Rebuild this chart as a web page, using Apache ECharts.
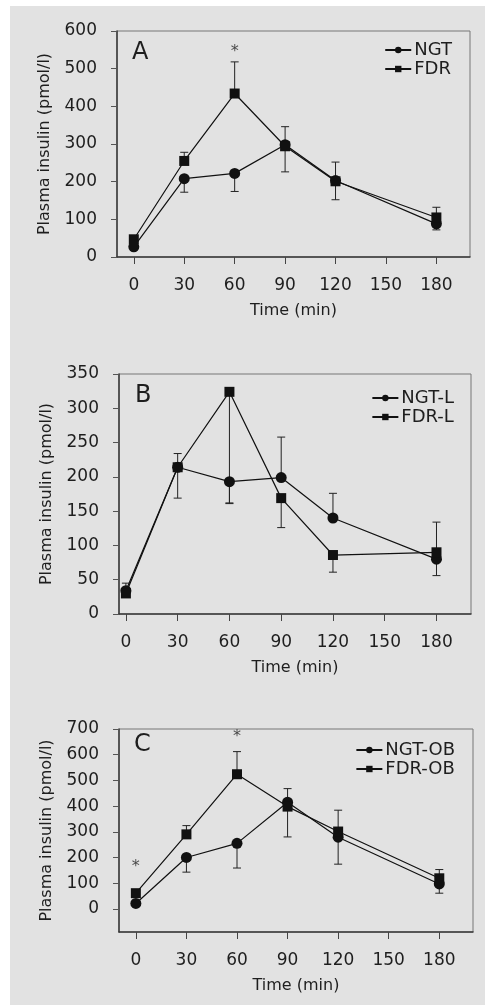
<!DOCTYPE html>
<html>
<head>
<meta charset="utf-8">
<script src="https://cdn.jsdelivr.net/npm/echarts@6/dist/echarts.min.js"></script>
<style>
  html, body { margin: 0; padding: 0; background: #fff; }
  #chart { width: 485px; height: 1007px; }
</style>
</head>
<body>
<div id="chart"></div>
<script>
// sampling times (min) and axis ticks
var times = [0, 30, 60, 90, 120, 180];
var xTicks = [0, 30, 60, 90, 120, 150, 180];
var yTicksA = [0, 100, 200, 300, 400, 500, 600];
var yTicksB = [0, 50, 100, 150, 200, 250, 300, 350];
var yTicksC = [0, 100, 200, 300, 400, 500, 600, 700];

// panel A - NGT / FDR
var ngtA = [27, 208, 222, 298, 203, 88];
var fdrA = [47, 255, 434, 294, 201, 105];
var ngtAErr = [null, 172, 174, 226, 152, 72];
var fdrAErr = [null, 278, 518, 346, 252, 132];
var starA = [[60, 545]];

// panel B - lean
var ngtB = [34, 214, 193, 199, 140, 80];
var fdrB = [30, 214, 324, 169, 86, 90];
var ngtBErr = [45, 234, 161, 258, 176, 134];
var fdrBErr = [null, 169, 162, 126, 61, 56];

// panel C - obese
var ngtC = [21, 200, 255, 415, 279, 97];
var fdrC = [61, 290, 524, 398, 301, 119];
var ngtCErr = [null, 143, 159, 280, 174, 61];
var fdrCErr = [null, 324, 612, 468, 384, 153];
var starC = [[0, 163], [60, 668]];

var FONT = 'DejaVu Sans';
var TXT = '#1e1e1e';

var chart = echarts.init(document.getElementById('chart'));

function pairs(vals) {
  return times.map(function (t, i) { return [t, vals[i]]; });
}

function errData(vals, ends) {
  var out = [];
  times.forEach(function (t, i) {
    if (ends[i] != null) out.push([t, vals[i], ends[i]]);
  });
  return out;
}

function lineSeries(name, idx, vals, symbol, size) {
  return {
    name: name, type: 'line', xAxisIndex: idx, yAxisIndex: idx,
    data: pairs(vals),
    symbol: symbol, symbolSize: size,
    itemStyle: { color: '#111' },
    lineStyle: { color: '#111', width: 1.2 },
    z: 3, animation: false
  };
}

function errSeries(idx, vals, ends) {
  return {
    type: 'custom', xAxisIndex: idx, yAxisIndex: idx, z: 2,
    data: errData(vals, ends),
    encode: { x: 0, y: [1, 2] },
    renderItem: function (params, api) {
      var p0 = api.coord([api.value(0), api.value(1)]);
      var p1 = api.coord([api.value(0), api.value(2)]);
      var w = 4;
      return {
        type: 'group',
        children: [
          { type: 'line', shape: { x1: p0[0], y1: p0[1], x2: p1[0], y2: p1[1] }, style: { stroke: '#222', lineWidth: 1 } },
          { type: 'line', shape: { x1: p1[0] - w, y1: p1[1], x2: p1[0] + w, y2: p1[1] }, style: { stroke: '#222', lineWidth: 1 } }
        ]
      };
    },
    animation: false
  };
}

function starSeries(idx, pts) {
  return {
    type: 'scatter', xAxisIndex: idx, yAxisIndex: idx,
    data: pts, symbolSize: 1,
    itemStyle: { color: 'rgba(0,0,0,0)' },
    label: { show: true, position: 'inside', formatter: '*', fontSize: 16, color: TXT, fontFamily: FONT },
    z: 4, animation: false
  };
}

function xAxis(idx, min) {
  return {
    gridIndex: idx, type: 'value', min: min, max: 200,
    name: 'Time (min)', nameLocation: 'middle', nameGap: 46,
    nameTextStyle: { fontSize: 16, color: TXT, fontFamily: FONT },
    axisLine: { show: true, onZero: false, lineStyle: { color: '#3a3a3a', width: 1.5 } },
    axisTick: { show: true, length: 7, customValues: xTicks, lineStyle: { color: '#444' } },
    axisLabel: { margin: 20, fontSize: 17, color: TXT, fontFamily: FONT, customValues: xTicks },
    splitLine: { show: false }
  };
}

function yAxis(idx, min, max, ticks) {
  return {
    gridIndex: idx, type: 'value', min: min, max: max,
    name: 'Plasma insulin (pmol/l)', nameLocation: 'middle', nameGap: 64,
    nameTextStyle: { fontSize: 16, color: TXT, fontFamily: FONT },
    axisLine: { show: true, onZero: false, lineStyle: { color: '#3a3a3a', width: 1.5 } },
    axisTick: { show: true, length: 6, customValues: ticks, lineStyle: { color: '#555' } },
    axisLabel: { margin: 20, fontSize: 17, color: TXT, fontFamily: FONT, customValues: ticks },
    splitLine: { show: false }
  };
}

function legend(idx, names, right, top) {
  return {
    data: names, orient: 'vertical', right: right, top: top,
    itemWidth: 26, itemHeight: 8, itemGap: 1,
    textStyle: { fontSize: 18, color: TXT, fontFamily: FONT, padding: [0, 0, 0, -2] },
    selectedMode: false
  };
}

function letter(ch, x, y) {
  return {
    type: 'text', left: x, top: y,
    style: { text: ch, fontSize: 24, fill: TXT, fontFamily: FONT }
  };
}

var option = {
  animation: false,
  graphic: [
    { type: 'rect', shape: { x: 10, y: 6, width: 475, height: 999 }, style: { fill: '#e2e2e2' }, z: -10, silent: true },
    letter('A', 132, 41),
    letter('B', 135, 384),
    letter('C', 134, 733)
  ],
  grid: [
    { left: 117, top: 31, width: 353, height: 226, show: true, borderColor: '#777', borderWidth: 1 },
    { left: 119, top: 374, width: 352, height: 240, show: true, borderColor: '#777', borderWidth: 1 },
    { left: 119, top: 729, width: 354, height: 203, show: true, borderColor: '#777', borderWidth: 1 }
  ],
  xAxis: [xAxis(0, -10), xAxis(1, -4), xAxis(2, -10)],
  yAxis: [yAxis(0, 0, 600, yTicksA), yAxis(1, 0, 350, yTicksB), yAxis(2, -90, 700, yTicksC)],
  legend: [
    legend(0, ['NGT', 'FDR'], 28, 36),
    legend(1, ['NGT-L', 'FDR-L'], 26, 384),
    legend(2, ['NGT-OB', 'FDR-OB'], 25, 736)
  ],
  series: [
    errSeries(0, ngtA, ngtAErr),
    errSeries(0, fdrA, fdrAErr),
    lineSeries('NGT', 0, ngtA, 'circle', 11),
    lineSeries('FDR', 0, fdrA, 'rect', 10),
    starSeries(0, starA),

    errSeries(1, ngtB, ngtBErr),
    errSeries(1, fdrB, fdrBErr),
    lineSeries('NGT-L', 1, ngtB, 'circle', 11),
    lineSeries('FDR-L', 1, fdrB, 'rect', 10),

    errSeries(2, ngtC, ngtCErr),
    errSeries(2, fdrC, fdrCErr),
    lineSeries('NGT-OB', 2, ngtC, 'circle', 11),
    lineSeries('FDR-OB', 2, fdrC, 'rect', 10),
    starSeries(2, starC)
  ]
};

chart.setOption(option);
</script>
</body>
</html>
